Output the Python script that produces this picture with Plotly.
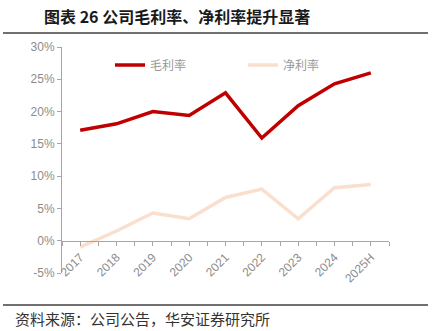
import plotly.graph_objects as go

# Reporting periods and margin series (%)
years = ["2017", "2018", "2019", "2020", "2021", "2022", "2023", "2024", "2025H"]
gross_margin = [17.1, 18.1, 20.0, 19.4, 22.9, 15.9, 20.9, 24.3, 26.0]
net_margin = [-1.0, 1.5, 4.3, 3.4, 6.7, 8.0, 3.4, 8.2, 8.7]
y_ticks = [-5, 0, 5, 10, 15, 20, 25, 30]

W, H = 433, 331
M_L, M_R, M_T, M_B = 62, 44, 47, 58
Y_MIN, Y_MAX = -5, 30
PW, PH = W - M_L - M_R, H - M_T - M_B

idx = list(range(len(years)))

fig = go.Figure()
fig.add_trace(go.Scatter(
    x=idx, y=gross_margin, name="毛利率", mode="lines",
    line=dict(color="#C00000", width=3.5), legend="legend",
))
fig.add_trace(go.Scatter(
    x=idx, y=net_margin, name="净利率", mode="lines",
    line=dict(color="#FADFCE", width=3.5), legend="legend2",
))

axis_grey = "#A6A6A6"
label_grey = "#8C8C8C"


def legend_box(x_px):
    return dict(
        orientation="h", x=(x_px - M_L) / PW, y=1.0 - (65 - M_T) / PH,
        xanchor="left", yanchor="middle",
        font=dict(family="Noto Sans CJK SC", size=12, color="#999999"),
        bgcolor="rgba(0,0,0,0)", itemclick=False, itemdoubleclick=False,
    )


fig.update_layout(
    width=W, height=H,
    margin=dict(l=M_L, r=M_R, t=M_T, b=M_B),
    paper_bgcolor="white", plot_bgcolor="white",
    font=dict(family="Liberation Sans, Arial, sans-serif", size=12, color=label_grey),
    showlegend=True,
    legend=legend_box(110),
    legend2=legend_box(243),
    xaxis=dict(
        range=[-0.5, len(years) - 0.5],
        tickmode="array", tickvals=idx, ticktext=years,
        tickangle=-45,
        showline=True, linecolor=axis_grey, linewidth=1,
        ticks="outside", ticklen=4, tickcolor=axis_grey,
        minor=dict(tickmode="linear", tick0=-0.5, dtick=1, ticks="outside",
                   ticklen=4, tickcolor=axis_grey),
        showgrid=False, zeroline=False,
        anchor="free", position=(0 - Y_MIN) / (Y_MAX - Y_MIN),
        tickfont=dict(size=12, color=label_grey),
        fixedrange=True,
    ),
    yaxis=dict(
        range=[Y_MIN, Y_MAX],
        tickmode="array", tickvals=y_ticks,
        ticktext=[f"{v}%" for v in y_ticks],
        showline=True, linecolor=axis_grey, linewidth=1,
        ticks="outside", ticklen=4, tickcolor=axis_grey,
        showgrid=False, zeroline=False,
        tickfont=dict(size=12, color=label_grey),
        fixedrange=True,
    ),
)

# Title and source with rule lines above and below the chart
fig.add_annotation(
    text="<b>图表 26 公司毛利率、净利率提升显著</b>",
    xref="paper", yref="paper",
    x=(42 - M_L) / PW, y=1 + (M_T - 16) / PH,
    xanchor="left", yanchor="middle", showarrow=False,
    font=dict(family="Noto Sans CJK SC", size=16, color="#1a1a1a"),
)
fig.add_annotation(
    text="资料来源：公司公告，华安证券研究所",
    xref="paper", yref="paper",
    x=(13 - M_L) / PW, y=-(318 - (H - M_B)) / PH,
    xanchor="left", yanchor="middle", showarrow=False,
    font=dict(family="Noto Sans CJK SC", size=15, color="#333333"),
)
for y_px in (33, 305):
    fig.add_shape(
        type="line", xref="paper", yref="paper",
        x0=(3 - M_L) / PW, x1=(428 - M_L) / PW,
        y0=1 - (y_px - M_T) / PH, y1=1 - (y_px - M_T) / PH,
        line=dict(color="#404040", width=1.5),
    )

fig.write_html("out.html", config=dict(displayModeBar=False))
